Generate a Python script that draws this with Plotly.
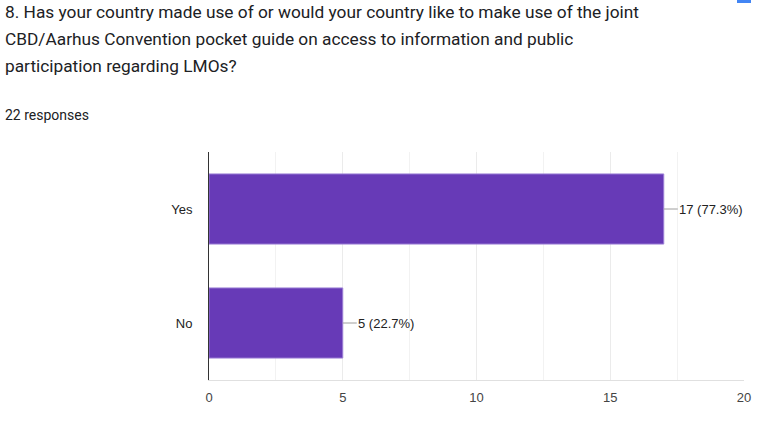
import plotly.graph_objects as go

categories = ["Yes", "No"]
counts = [17, 5]
x_ticks = [0, 5, 10, 15, 20]
title_lines = [
    "8. Has your country made use of or would your country like to make use of the joint",
    "CBD/Aarhus Convention pocket guide on access to information and public",
    "participation regarding LMOs?",
]
responses_text = "22 responses"

W, H = 771, 427
L, R, T, B = 209, 27, 152, 47
PW, PH = W - L - R, H - T - B

def px(x):
    return (x - L) / PW

def py(y):
    return (H - B - y) / PH

ARIAL = "Liberation Sans, Arial, sans-serif"
ROBOTO = "Roboto, Arial, sans-serif"

total = sum(counts)
fig = go.Figure()
fig.add_trace(go.Bar(
    x=counts, y=categories, orientation="h",
    marker=dict(color="#673ab7", line=dict(color="#9c7fd6", width=1)),
    hoverinfo="skip",
))

annotations = []
for c, v in zip(categories, counts):
    annotations.append(dict(
        x=v, y=c, xref="x", yref="y",
        text=f"{v} ({v / total * 100:.1f}%)",
        showarrow=True, arrowhead=0, arrowwidth=1, arrowcolor="#9e9e9e",
        ax=14, ay=0, xanchor="left", standoff=0, borderpad=0,
        font=dict(family=ARIAL, size=13, color="#222222"),
    ))

title_y = [12, 39, 66]
for line, yy in zip(title_lines, title_y):
    annotations.append(dict(
        x=px(3), y=py(yy), xref="paper", yref="paper",
        text=line, showarrow=False, xanchor="left", yanchor="middle",
        font=dict(family=ROBOTO, size=17.3, color="#202124"),
    ))
annotations.append(dict(
    x=px(3), y=py(115), xref="paper", yref="paper",
    text=responses_text, showarrow=False, xanchor="left", yanchor="middle",
    font=dict(family=ROBOTO, size=14, color="#202124"),
))

fig.update_layout(
    width=W, height=H,
    margin=dict(l=L, r=R, t=T, b=B, pad=0),
    paper_bgcolor="white", plot_bgcolor="white",
    showlegend=False, bargap=0.385,
    annotations=annotations,
    shapes=[dict(type="rect", xref="paper", yref="paper",
                 x0=px(737), x1=px(751), y0=py(3), y1=py(0),
                 fillcolor="#4285f4", line=dict(width=0))],
    xaxis=dict(
        range=[0, 20], tickvals=x_ticks, ticktext=[str(t) for t in x_ticks],
        showgrid=True, gridcolor="#ebebeb", gridwidth=1,
        minor=dict(dtick=2.5, tick0=0, showgrid=True, gridcolor="#f2f2f2", gridwidth=1),
        showline=True, linecolor="#e0e0e0", linewidth=1,
        zeroline=False, ticks="", ticklabelstandoff=5,
        tickfont=dict(family=ARIAL, size=13, color="#444444"),
    ),
    yaxis=dict(
        autorange="reversed", showgrid=False, zeroline=False,
        showline=True, linecolor="#333333", linewidth=1,
        ticks="", ticklabelstandoff=13,
        tickfont=dict(family=ARIAL, size=13, color="#222222"),
    ),
)

fig.write_html(
    "out.html",
    config={"displayModeBar": False},
    post_script="document.body.style.margin='0';document.body.style.overflow='hidden';",
)
